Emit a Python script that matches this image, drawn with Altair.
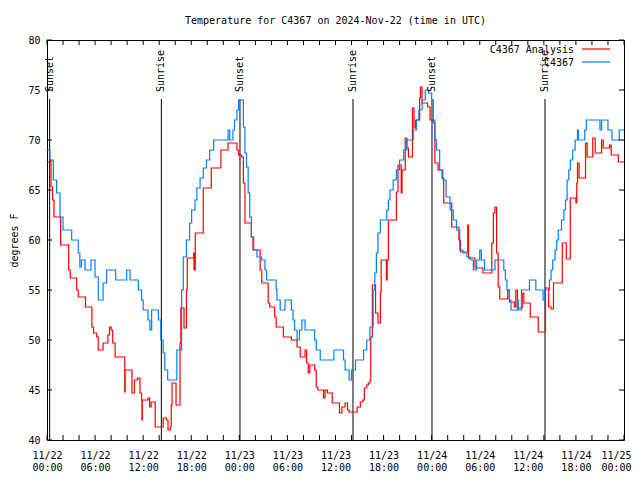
import altair as alt
import pandas as pd

FONT = "DejaVu Sans Mono"

# Observed station series (hours since 2024-11-22 00:00 UTC, deg F)
obs_hours = [0.0, 0.37, 0.79, 1.2, 1.62, 2.0, 3.08, 3.9, 4.1, 4.3, 4.74, 5.49, 5.99, 6.4, 7.0, 7.45, 8.57, 9.94,
             10.36, 11.4, 11.8, 12.0, 12.6, 12.85, 13.06, 13.9, 14.2, 14.5, 14.7, 15.06, 16.2, 16.8, 17.0, 17.4,
             17.8, 18.05, 18.47, 18.7, 19.1, 19.5, 19.9, 20.3, 20.8, 22.6, 22.8, 23.2, 23.4, 23.7, 23.9, 24.3,
             24.5, 24.7, 24.9, 25.1, 25.3, 25.5, 25.8, 26.2, 26.8, 27.2, 27.4, 28.6, 28.7, 29.1, 29.7, 30.3,
             30.5, 30.7, 30.9, 31.2, 31.5, 31.8, 32.2, 33.4, 33.6, 34.1, 35.8, 37.0, 37.2, 37.7, 38.0, 38.5,
             39.5, 39.9, 40.3, 40.7, 40.9, 41.1, 41.3, 41.6, 42.4, 42.6, 42.8, 43.2, 43.6, 44.0, 44.5, 44.9,
             45.7, 46.1, 46.4, 46.8, 47.2, 47.6, 48.0, 48.2, 48.4, 48.6, 49.0, 49.4, 49.8, 50.3, 50.7, 51.1,
             51.5, 51.9, 52.4, 52.8, 53.2, 53.6, 54.0, 54.2, 54.6, 55.9, 57.0, 57.2, 57.4, 57.7, 57.9, 58.7,
             58.8, 59.2, 60.2, 61.0, 61.9, 62.1, 62.7, 62.9, 63.1, 63.4, 63.6, 63.8, 64.2, 64.5, 64.7, 64.9,
             65.1, 65.3, 65.6, 65.9, 66.2, 66.3, 67.1, 67.3, 69.0, 69.2, 70.0, 70.5, 71.4, 72.0]
obs_temps = [69, 68, 66, 64.7, 62.3, 61, 60, 58.7, 57.3, 58, 57, 58, 56.3, 54, 55.7, 57, 56, 57,
             56, 55, 54, 53, 52, 51, 53, 52, 50, 48.7, 47, 46, 49, 55, 58.3, 60,
             61.7, 63, 64, 65.2, 66.2, 67.2, 68, 69, 70, 71, 70, 71, 72, 73, 74, 74,
             71.3, 68.7, 67.3, 64.7, 62.3, 60.3, 59, 58.3, 58, 57, 56, 55, 54, 53, 54, 54,
             53, 52, 51, 50, 51, 52, 51, 50, 49, 48, 49, 48, 47, 46, 47, 48,
             49, 50, 51.3, 55, 56.7, 58.7, 60.7, 62, 63, 64, 65, 66, 67, 68, 69, 70,
             71, 72, 73, 74, 75, 74.7, 74, 72, 70, 69, 67, 66, 64.3, 63, 62, 61,
             59, 58.7, 58.3, 58, 57, 58, 59, 58, 57, 58, 57, 56, 55, 54, 53, 54,
             53, 55, 56, 55, 54, 55, 56, 57, 58, 59, 60, 61, 62, 63, 64, 66,
             67, 68, 69, 70, 71, 70, 71, 72, 71, 72, 71, 70, 71, 71]

# Analysis series
ana_hours = [0.0, 0.45, 0.5, 0.7, 0.87, 1.7, 2.7, 2.9, 3.7, 3.9, 4.8, 5.6, 5.8, 6.2, 6.4, 7.0, 7.6, 7.8, 8.0,
             8.2, 8.5, 9.7, 9.75, 9.8, 10.6, 10.9, 11.3, 11.6, 11.8, 11.85, 11.9, 12.6, 12.8, 13.0, 13.5,
             14.5, 14.9, 15.1, 15.4, 15.5, 15.6, 16.1, 16.6, 16.7, 17.1, 17.4, 17.5, 18.3, 18.35, 18.5,
             19.5, 20.5, 21.7, 22.6, 23.7, 23.9, 24.3, 24.5, 24.7, 25.5, 25.7, 26.6, 26.8, 27.6, 27.8,
             28.4, 28.6, 29.5, 30.5, 31.2, 31.6, 32.2, 32.4, 32.6, 32.8, 33.4, 33.6, 33.8, 34.5, 34.7,
             35.0, 35.6, 36.5, 36.8, 37.2, 37.5, 37.7, 38.7, 39.1, 39.4, 39.6, 39.9, 40.1, 40.3, 40.4,
             40.6, 41.0, 41.3, 41.6, 41.7, 42.35, 42.45, 42.6, 43.6, 43.8, 44.2, 44.3, 44.7, 44.9, 45.1,
             45.6, 45.8, 46.0, 46.5, 46.6, 46.8, 47.5, 47.8, 48.2, 48.4, 48.8, 49.3, 49.5, 50.5, 51.4,
             51.6, 52.5, 52.6, 53.4, 54.4, 55.5, 55.7, 55.9, 56.1, 56.3, 56.5, 57.5, 57.7, 58.3, 58.5,
             58.7, 59.3, 59.5, 60.3, 61.3, 62.2, 62.6, 62.9, 63.2, 64.3, 64.8, 65.3, 66.0, 66.1, 66.2,
             66.4, 67.2, 67.4, 68.1, 68.4, 69.2, 69.4, 70.2, 70.4, 71.3, 72.0]
ana_temps = [67.8, 68, 65.3, 64, 62.3, 59.5, 57, 56.2, 55, 54.3, 53.3, 51.3, 50.7, 50.3, 49, 49.7, 50.5, 51.3, 51,
             49.7, 48.3, 44.8, 47, 47, 44.7, 46, 46.2, 44.7, 44, 42, 44, 44.2, 43.3, 43.8, 41.3,
             42.2, 42, 41, 41.3, 43.5, 45.7, 43.5, 49.7, 53.2, 51.2, 55, 58.2, 58.7, 57, 60.7,
             65.2, 67.2, 69, 69.7, 69, 68.5, 68.3, 65.7, 61.7, 60.3, 59, 57, 55.7, 53.7, 53.3,
             52.3, 51.3, 50.3, 50, 49.3, 48.3, 49, 47.7, 46.7, 47.5, 47, 45.3, 45, 44.2, 45,
             44.7, 43.7, 42.7, 43.3, 43.7, 43, 42.8, 43.3, 43.8, 44, 45.2, 45.5, 45.7, 46, 50.3,
             55.5, 52.7, 51.7, 54.8, 58, 56, 58, 62, 64.8, 67.5, 64.7, 67, 70.2, 69.2, 68.3,
             73.2, 71.2, 72, 74.2, 75.3, 73.7, 73.3, 72, 71.7, 67.7, 67, 66.2, 63.7, 61.3, 60,
             58.8, 61.5, 58.2, 57.2, 56.7, 59.7, 62.7, 63.3, 58.7, 55.3, 54.1, 55, 53.8, 53.3, 55,
             53.2, 54.7, 53.7, 52.3, 50.8, 55.2, 53.3, 53.1, 55.7, 59.7, 58.1, 64.2, 63.7, 65.7, 67.7,
             66.2, 69.7, 68.3, 70.2, 68.7, 70, 69.2, 69.5, 68.5, 67.8, 67.8]

# Sunrise / sunset events
event_hours = [0.33, 14.27, 24.08, 38.18, 48.04, 62.14]
event_names = ["Sunset", "Sunrise", "Sunset", "Sunrise", "Sunset", "Sunrise"]
event_line_top = 74.1
event_label_base = 74.8

# Axis ticks / labels
x_tick_hours = [0, 6, 12, 18, 24, 30, 36, 42, 48, 54, 60, 66, 72]
x_tick_dates = ["11/22", "11/22", "11/22", "11/22", "11/23", "11/23", "11/23", "11/23",
                "11/24", "11/24", "11/24", "11/24", "11/25"]
x_tick_times = ["00:00", "06:00", "12:00", "18:00", "00:00", "06:00", "12:00", "18:00",
                "00:00", "06:00", "12:00", "18:00", "00:00"]
x_minor_hours = list(range(0, 73, 2))
y_ticks = [40, 45, 50, 55, 60, 65, 70, 75, 80]

series_names = ["C4367 Analysis", "C4367"]
series_colors = ["#ff0000", "#0080ff"]

W, H = 577, 400

ana_df = pd.DataFrame({"h": ana_hours, "t": ana_temps})
obs_df = pd.DataFrame({"h": obs_hours, "t": obs_temps})
ev_df = pd.DataFrame({"h": event_hours, "name": event_names,
                      "top": [event_line_top] * len(event_hours),
                      "base": [40] * len(event_hours),
                      "lab": [event_label_base] * len(event_hours)})
xt_df = pd.DataFrame({"h": x_minor_hours})
yt_df = pd.DataFrame({"t": y_ticks})

label_expr = ""
for hv, d, tm in zip(x_tick_hours, x_tick_dates, x_tick_times):
    label_expr += f"datum.value == {hv} ? ['{d}', '{tm}'] : "
label_expr += "''"

xscale = alt.Scale(domain=[0, 72], nice=False, zero=False)
yscale = alt.Scale(domain=[40, 80], nice=False, zero=False)

xaxis = alt.Axis(values=x_tick_hours, labelExpr=label_expr, tickSize=0, domain=False, grid=False,
                 labelPadding=10, labelFont=FONT, labelFontSize=10, labelColor="black",
                 labelOffset={"condition": {"test": f"datum.value == {x_tick_hours[-1]}", "value": -8},
                              "value": 0},
                 labelOverlap=False, labelFlush=False, labelBound=False, labelLineHeight=12, title=None)
yaxis = alt.Axis(values=y_ticks, tickSize=0, domain=False, grid=False, labelPadding=7,
                 labelFont=FONT, labelFontSize=10, labelColor="black", title="degrees F",
                 titleFont=FONT, titleFontSize=10, titleFontWeight="normal", titleColor="black",
                 titlePadding=8)

X = alt.X("h:Q", scale=xscale, axis=xaxis)
Y = alt.Y("t:Q", scale=yscale, axis=yaxis)

ana_line = alt.Chart(ana_df).mark_line(color=series_colors[0], strokeWidth=1.2,
                                        interpolate="step-after").encode(x=X, y=Y)
obs_line = alt.Chart(obs_df).mark_line(color=series_colors[1], strokeWidth=1.2,
                                        interpolate="step-after").encode(x=X, y=Y)

ev_rules = alt.Chart(ev_df).mark_rule(color="black", strokeWidth=1).encode(
    x=alt.X("h:Q", scale=xscale), y=alt.Y("base:Q", scale=yscale), y2="top:Q")
ev_text = alt.Chart(ev_df).mark_text(angle=270, align="left", baseline="middle", font=FONT,
                                     fontSize=10, color="black").encode(
    x=alt.X("h:Q", scale=xscale), y=alt.Y("lab:Q", scale=yscale), text="name:N")

xt_bot = alt.Chart(xt_df).mark_rule(color="black").encode(
    x=alt.X("h:Q", scale=xscale), y=alt.value(H), y2=alt.value(H - 5))
xt_top = alt.Chart(xt_df).mark_rule(color="black").encode(
    x=alt.X("h:Q", scale=xscale), y=alt.value(0), y2=alt.value(5))
yt_left = alt.Chart(yt_df).mark_rule(color="black").encode(
    y=alt.Y("t:Q", scale=yscale), x=alt.value(0), x2=alt.value(5))
yt_right = alt.Chart(yt_df).mark_rule(color="black").encode(
    y=alt.Y("t:Q", scale=yscale), x=alt.value(W), x2=alt.value(W - 5))

leg_layers = []
for i, (nm, col) in enumerate(zip(series_names, series_colors)):
    ly = 10 + 13 * i
    leg_layers.append(alt.Chart(alt.Data(values=[{"label": nm}])).mark_text(
        align="right", baseline="middle", font=FONT, fontSize=10, color="black").encode(
        x=alt.value(527), y=alt.value(ly), text="label:N"))
    leg_layers.append(alt.Chart(alt.Data(values=[{"label": nm}])).mark_rule(
        color=col, strokeWidth=1.2).encode(x=alt.value(535), x2=alt.value(563), y=alt.value(ly - 1)))

chart = alt.layer(ev_rules, ana_line, obs_line, ev_text, xt_bot, xt_top, yt_left, yt_right,
                  *leg_layers).properties(
    width=W, height=H,
    title=alt.TitleParams("Temperature for C4367 on 2024-Nov-22 (time in UTC)", font=FONT,
                          fontSize=10, fontWeight="normal", color="black", anchor="middle",
                          offset=9),
    padding={"left": 39, "top": 32, "right": 8, "bottom": 38},
    autosize=alt.AutoSizeParams(type="none"),
    background="white",
).configure_view(stroke="black", strokeWidth=1)

chart.save("out.html", embed_options={"renderer": "svg", "actions": False})
